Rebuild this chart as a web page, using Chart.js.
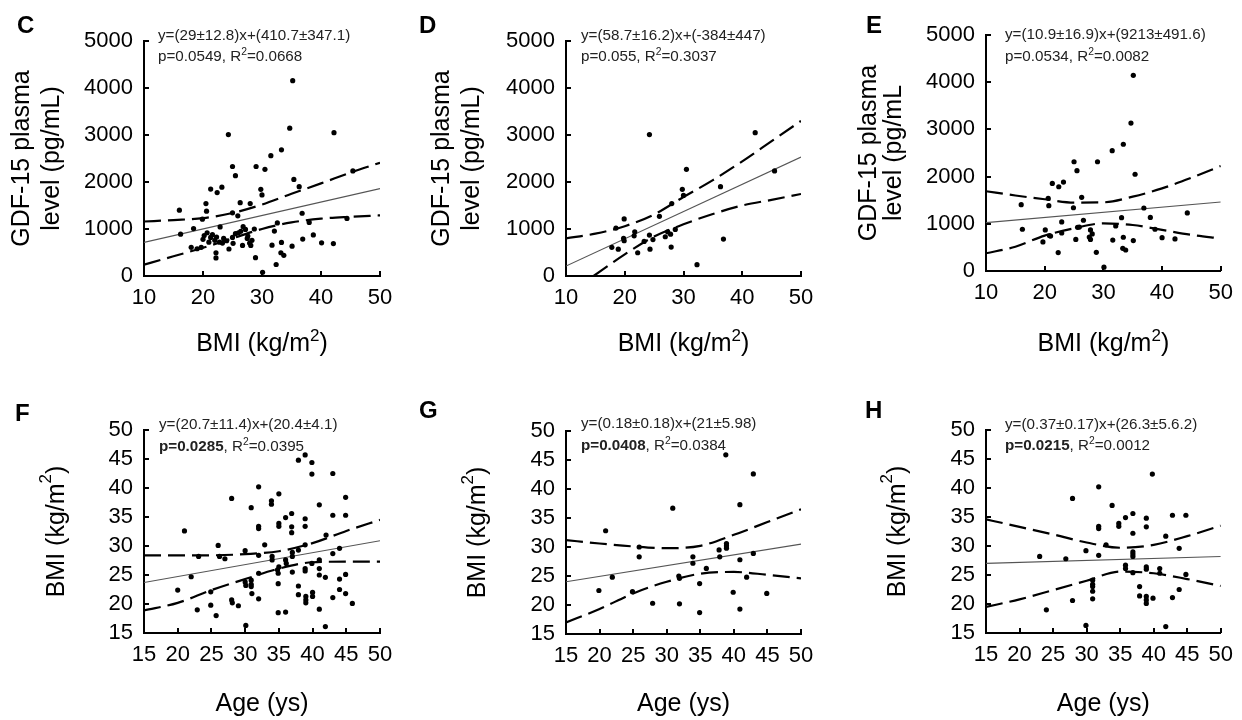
<!DOCTYPE html>
<html>
<head>
<meta charset="utf-8">
<script src="https://cdn.jsdelivr.net/npm/chart.js@4.4.1/dist/chart.umd.min.js"></script>
<style>
  body { margin: 0; background: #fff; width: 1242px; height: 720px; overflow: hidden; position: relative; }
  canvas { position: absolute; }
</style>
</head>
<body>
<canvas id="panelC" width="414" height="360" style="left:0;top:0"></canvas>
<canvas id="panelD" width="414" height="360" style="left:414px;top:0"></canvas>
<canvas id="panelE" width="414" height="360" style="left:828px;top:0"></canvas>
<canvas id="panelF" width="414" height="360" style="left:0;top:360px"></canvas>
<canvas id="panelG" width="414" height="360" style="left:414px;top:360px"></canvas>
<canvas id="panelH" width="414" height="360" style="left:828px;top:360px"></canvas>
<script>
// ---- data ----
// BMI (kg/m2) vs GDF-15 (pg/mL)
const cPoints = [[16.0,1400],[16.2,890],[18.0,610],[18.4,1010],[19.0,580],[19.7,610],[19.9,1210],[20.5,1540],[20.6,1380],
  [21.3,1850],[22.4,1775],[23.2,1890],[20.0,780],[20.2,860],[20.7,920],[21.0,720],[21.3,820],[21.6,880],[22.0,760],
  [22.3,830],[22.8,720],[23.3,700],[23.5,800],[24.0,750],[22.2,495],[22.2,385],[22.9,1045],[24.3,3010],[25.0,2330],
  [25.5,2135],[25.0,1345],[24.4,575],[25.1,695],[25.0,820],[25.5,900],[26.0,920],[26.4,950],[26.8,1050],[27.2,990],
  [27.6,850],[27.9,700],[28.1,650],[28.3,760],[28.7,1000],[27.5,800],[26.7,650],[26.3,1560],[25.9,1280],[28.0,1540],
  [28.9,390],[29.0,2330],[30.5,2270],[29.8,1845],[30.0,1725],[30.1,80],[31.5,2560],[33.3,2685],[35.2,4155],[34.7,3145],
  [35.4,2055],[36.3,1900],[36.8,1335],[38.0,1140],[36.9,785],[38.7,875],[40.1,705],[42.1,690],[42.2,3050],[45.4,2235],
  [44.4,1225],[32.1,955],[31.7,655],[33.3,715],[33.2,495],[33.7,440],[32.4,245],[35.1,635],[32.6,1130]];
const dPoints = [[17.8,610],[18.9,570],[18.5,1020],[19.9,1215],[19.8,800],[19.9,750],[21.7,940],[21.6,855],[22.2,495],
  [23.3,735],[24.2,3010],[24.2,870],[24.3,570],[24.8,775],[25.9,1270],[26.9,835],[27.3,940],[28.0,1540],[27.9,615],
  [27.8,890],[28.6,990],[29.8,1845],[30.0,1715],[30.5,2270],[32.3,240],[36.3,1900],[36.8,785],[42.2,3050],[45.5,2235]];
const ePoints = [[16.0,1405],[16.2,885],[19.7,615],[20.1,870],[20.6,1540],[20.7,1385],[20.8,750],[21.0,740],[21.3,1855],
  [22.4,1785],[23.2,1885],[22.3,390],[22.9,1040],[22.9,805],[24.9,1340],[25.0,2315],[25.5,2125],[25.3,670],[25.6,925],
  [25.9,930],[26.3,1560],[26.6,1075],[27.8,870],[27.8,670],[28.1,785],[27.6,720],[29.0,2315],[28.8,395],[30.1,80],
  [31.5,2550],[31.6,655],[33.1,1130],[33.4,2685],[33.4,715],[33.3,480],[33.8,445],[34.7,3135],[35.1,4145],[35.4,2050],
  [35.1,645],[32.1,955],[36.9,1335],[38.0,1135],[38.8,885],[40.0,705],[42.2,680],[44.3,1230]];

// Age (ys) vs BMI (kg/m2)
const fPoints = [[21.0,32.6],[20.0,22.4],[22.0,24.7],[23.1,28.2],[22.9,19.0],[24.9,22.1],[24.9,19.8],[25.7,18.0],[26.0,30.1],
  [26.2,28.2],[27.0,27.8],[28.0,38.2],[28.0,20.7],[28.1,20.2],[29.0,19.7],[30.0,29.2],[30.0,23.8],[30.1,23.2],[30.1,16.3],
  [30.9,36.6],[30.9,24.1],[30.9,23.4],[30.9,23.0],[31.0,21.8],[32.0,40.2],[32.0,33.4],[32.0,33.0],[32.0,28.4],[32.0,25.3],
  [32.0,20.9],[32.9,30.2],[33.9,37.8],[33.9,37.2],[34.0,28.2],[34.0,27.6],[34.9,18.5],[36.0,18.6],[35.0,39.0],[35.0,33.9],
  [35.0,33.4],[34.8,25.9],[34.9,25.3],[34.9,23.5],[36.0,34.9],[36.0,27.6],[36.1,27.0],[36.9,35.6],[36.9,33.3],[36.9,32.3],
  [37.0,28.9],[37.0,28.2],[37.0,25.5],[37.9,44.8],[38.9,45.7],[38.9,34.7],[38.9,33.4],[37.9,29.3],[37.9,23.1],[37.9,21.6],
  [38.9,30.2],[38.9,26.1],[39.0,21.3],[39.0,20.7],[39.0,20.2],[39.9,44.4],[39.9,42.4],[40.0,22.0],[40.0,21.3],[41.0,37.1],
  [41.0,27.6],[41.0,26.1],[41.0,25.0],[41.0,19.1],[41.9,24.6],[41.9,16.1],[42.0,31.9],[43.0,42.5],[43.0,35.3],[43.0,28.7],
  [43.0,21.1],[44.0,29.6],[44.0,24.3],[44.0,22.5],[44.9,38.4],[44.9,35.3],[44.9,25.1],[44.9,21.8],[45.9,20.1],[35.0,26.4],
  [38.9,25.7],[39.9,27.0]];
const gPoints = [[20.9,32.8],[19.9,22.5],[21.9,24.8],[25.9,30.0],[25.9,28.3],[24.9,22.3],[27.9,20.3],[30.9,36.7],[31.8,25.0],
  [31.9,20.2],[31.9,24.6],[33.9,28.3],[33.9,27.2],[34.9,23.7],[34.9,18.7],[35.9,26.3],[37.8,29.5],[37.9,28.3],[38.8,45.9],
  [38.9,30.6],[38.9,30.2],[40.9,37.3],[40.9,27.8],[39.9,22.2],[40.9,19.3],[41.9,24.8],[42.9,42.6],[42.9,28.9],[44.9,22.0],
  [38.9,29.8]];
const hPoints = [[23.0,28.2],[24.0,19.0],[26.9,27.8],[27.9,38.2],[27.9,20.6],[29.9,29.2],[29.9,16.3],[30.9,24.1],[30.9,23.4],
  [30.9,23.0],[30.9,22.2],[30.9,20.9],[31.8,40.2],[31.8,33.4],[31.8,33.0],[31.8,28.4],[32.9,30.2],[33.8,37.0],[34.8,33.9],
  [34.8,33.4],[35.8,34.9],[36.9,35.6],[36.9,32.2],[36.9,29.0],[36.9,28.6],[36.9,28.2],[35.8,26.7],[35.8,26.1],[36.9,25.4],
  [37.9,23.0],[37.9,21.4],[38.9,34.8],[38.9,33.3],[38.9,26.4],[38.9,26.0],[38.9,21.3],[38.9,20.7],[38.9,20.1],[39.8,42.4],
  [39.9,21.0],[40.9,26.1],[40.9,25.3],[41.8,16.1],[41.8,31.7],[42.8,35.3],[42.8,21.1],[43.8,29.6],[43.8,22.5],[44.8,35.3],
  [44.8,25.1]];

// fitted line (ends) and confidence band, read at these x positions
const bmiEnds = [10, 50];
const ageEnds = [15, 50];
const bmiBandX = [10, 15, 20, 25, 30, 35, 40, 45, 50];
const ageBandX = [15, 20, 25, 30, 35, 40, 45, 50];

const cFit = [715, 1860];
const cUpper = [1160, 1190, 1230, 1340, 1520, 1750, 1970, 2200, 2410];
const cLower = [240, 420, 600, 800, 1000, 1140, 1220, 1260, 1290];
const dFit = [212, 2530];
const dUpper = [800, 900, 1060, 1310, 1680, 2040, 2440, 2870, 3300];
const dLowerX = [14.7, 20, 25, 30, 35, 40, 45, 50];
const dLower = [0, 460, 840, 1100, 1320, 1500, 1620, 1745];
const eFit = [1024, 1462];
const eUpper = [1690, 1600, 1520, 1450, 1455, 1575, 1750, 1975, 2225];
const eLower = [375, 515, 750, 905, 1010, 975, 870, 765, 690];

const fFit = [23.7, 30.9];
const fUpper = [28.4, 28.4, 28.4, 28.6, 29.1, 30.5, 32.6, 34.5];
const fLower = [18.9, 20.2, 22.4, 24.3, 26.1, 27.2, 27.3, 27.3];
const gFit = [24.0, 30.5];
const gUpper = [31.2, 30.6, 30.1, 29.8, 30.2, 32.1, 34.3, 36.5];
const gLower = [17.0, 19.3, 22.0, 24.0, 25.4, 25.7, 25.2, 24.6];
const hFit = [27.0, 28.2];
const hUpper = [34.6, 33.3, 32.0, 30.6, 29.7, 30.2, 31.7, 33.5];
const hLower = [19.5, 20.8, 22.4, 24.0, 25.6, 25.3, 24.3, 23.1];

// ---- drawing ----
const FONT = '"Liberation Sans", Arial, Helvetica, sans-serif';
const sup2 = { t: '2', sup: true };
const bmiTitle = [{ t: 'BMI (kg/m' }, sup2, { t: ')' }];
const gdfTitle = [[{ t: 'GDF-15 plasma' }], [{ t: 'level (pg/mL)' }]];

function xy(xs, ys) {
  return xs.map((x, i) => ({ x: x, y: ys[i] }));
}

function drawRuns(ctx, runs, x, y, size, align, color, baseline) {
  ctx.fillStyle = color;
  ctx.textBaseline = baseline || 'alphabetic';
  ctx.textAlign = 'left';
  const fontOf = r => (r.b ? 'bold ' : '') + (r.sup ? size * 0.68 : size) + 'px ' + FONT;
  let total = 0;
  runs.forEach(r => { ctx.font = fontOf(r); total += ctx.measureText(r.t).width; });
  let cx = align === 'center' ? x - total / 2 : x;
  runs.forEach(r => {
    ctx.font = fontOf(r);
    ctx.fillText(r.t, cx, r.sup ? y - size * 0.42 : y);
    cx += ctx.measureText(r.t).width;
  });
}

const panelText = {
  id: 'panelText',
  afterDraw(chart, args, o) {
    const ctx = chart.ctx;
    const a = chart.chartArea;
    ctx.save();

    // inward tick marks
    ctx.strokeStyle = '#000';
    ctx.lineWidth = 2;
    const xs = chart.scales.x, ys = chart.scales.y;
    xs.ticks.forEach(t => {
      if (t.value === xs.min) return;
      const px = Math.round(xs.getPixelForValue(t.value));
      ctx.beginPath(); ctx.moveTo(px, a.bottom); ctx.lineTo(px, a.bottom - 5); ctx.stroke();
    });
    ys.ticks.forEach(t => {
      if (t.value === ys.min) return;
      const py = Math.round(ys.getPixelForValue(t.value));
      ctx.beginPath(); ctx.moveTo(a.left, py); ctx.lineTo(a.left + 5, py); ctx.stroke();
    });

    // panel letter
    drawRuns(ctx, [{ t: o.letter, b: true }], o.letterX, o.letterY, 24, 'left', '#000');
    // regression text
    drawRuns(ctx, [{ t: o.eq1 }], a.left + o.eqDx, o.eq1Y, 15.2, 'left', '#222');
    drawRuns(ctx, o.eq2, a.left + o.eqDx, o.eq2Y, 15.2, 'left', '#222');
    // axis titles
    drawRuns(ctx, o.xTitle, (a.left + a.right) / 2, o.xTitleY, 25, 'center', '#000');
    const cy = (a.top + a.bottom) / 2;
    o.yTitle.forEach((runs, i) => {
      ctx.save();
      ctx.translate(o.yTitleX[i], cy);
      ctx.rotate(-Math.PI / 2);
      drawRuns(ctx, runs, 0, 0, 25, 'center', '#000', 'middle');
      ctx.restore();
    });
    ctx.restore();
  }
};

function makePanel(id, p) {
  const lineBase = { showLine: true, pointRadius: 0, fill: false };
  const band = Object.assign({}, lineBase, {
    borderColor: '#000', borderWidth: 2.2, borderDash: [17, 7], cubicInterpolationMode: 'monotone', order: 2
  });
  new Chart(document.getElementById(id), {
    type: 'scatter',
    data: {
      datasets: [
        { data: p.points.map(q => ({ x: q[0], y: q[1] })), pointRadius: 2.6, pointBackgroundColor: '#000',
          pointBorderWidth: 0, order: 0 },
        Object.assign({}, lineBase, { data: p.fit, borderColor: '#555', borderWidth: 1.1, order: 1 }),
        Object.assign({}, band, { data: p.upper }),
        Object.assign({}, band, { data: p.lower })
      ]
    },
    options: {
      responsive: false,
      animation: false,
      events: [],
      layout: { padding: { left: p.area.l - 60, right: 414 - p.area.r, top: p.area.t, bottom: 360 - p.area.b - 40 } },
      scales: {
        x: {
          type: 'linear', min: p.xRange[0], max: p.xRange[1],
          grid: { display: false, drawTicks: false },
          border: { color: '#000', width: 2 },
          ticks: { stepSize: p.xRange[2], color: '#000', font: { family: FONT, size: 22 }, padding: 9,
                   autoSkip: false, maxRotation: 0, callback: v => String(v) },
          afterFit: s => { s.height = 40; }
        },
        y: {
          type: 'linear', min: p.yRange[0], max: p.yRange[1],
          grid: { display: false, drawTicks: false },
          border: { color: '#000', width: 2 },
          ticks: { stepSize: p.yRange[2], color: '#000', font: { family: FONT, size: 22 }, padding: 11,
                   autoSkip: false, callback: v => String(v) },
          afterFit: s => { s.width = 60; }
        }
      },
      plugins: { legend: { display: false }, tooltip: { enabled: false }, panelText: p.text }
    },
    plugins: [panelText]
  });
}

makePanel('panelC', {
  points: cPoints, fit: xy(bmiEnds, cFit), upper: xy(bmiBandX, cUpper), lower: xy(bmiBandX, cLower),
  xRange: [10, 50, 10], yRange: [0, 5000, 1000], area: { l: 144, r: 380, t: 41, b: 276 },
  text: { letter: 'C', letterX: 17, letterY: 33, eqDx: 14, eq1Y: 40, eq2Y: 61,
    eq1: 'y=(29\u00b112.8)x+(410.7\u00b1347.1)', eq2: [{ t: 'p=0.0549, R' }, sup2, { t: '=0.0668' }],
    xTitle: bmiTitle, xTitleY: 351, yTitle: gdfTitle, yTitleX: [22, 52] }
});
makePanel('panelD', {
  points: dPoints, fit: xy(bmiEnds, dFit), upper: xy(bmiBandX, dUpper), lower: xy(dLowerX, dLower),
  xRange: [10, 50, 10], yRange: [0, 5000, 1000], area: { l: 152, r: 387, t: 41, b: 276 },
  text: { letter: 'D', letterX: 5, letterY: 33, eqDx: 15, eq1Y: 40, eq2Y: 61,
    eq1: 'y=(58.7\u00b116.2)x+(-384\u00b1447)', eq2: [{ t: 'p=0.055, R' }, sup2, { t: '=0.3037' }],
    xTitle: bmiTitle, xTitleY: 351, yTitle: gdfTitle, yTitleX: [28.5, 58.5] }
});
makePanel('panelE', {
  points: ePoints, fit: xy(bmiEnds, eFit), upper: xy(bmiBandX, eUpper), lower: xy(bmiBandX, eLower),
  xRange: [10, 50, 10], yRange: [0, 5000, 1000], area: { l: 158, r: 394, t: 35, b: 271 },
  text: { letter: 'E', letterX: 38, letterY: 33, eqDx: 19, eq1Y: 39, eq2Y: 61,
    eq1: 'y=(10.9\u00b116.9)x+(9213\u00b1491.6)', eq2: [{ t: 'p=0.0534, R' }, sup2, { t: '=0.0082' }],
    xTitle: bmiTitle, xTitleY: 351, yTitle: [[{ t: 'GDF-15 plasma' }], [{ t: 'level (pg/mL' }]], yTitleX: [41.5, 66] }
});
makePanel('panelF', {
  points: fPoints, fit: xy(ageEnds, fFit), upper: xy(ageBandX, fUpper), lower: xy(ageBandX, fLower),
  xRange: [15, 50, 5], yRange: [15, 50, 5], area: { l: 144, r: 380, t: 70, b: 273 },
  text: { letter: 'F', letterX: 15, letterY: 61, eqDx: 15, eq1Y: 69, eq2Y: 91,
    eq1: 'y=(20.7\u00b111.4)x+(20.4\u00b14.1)', eq2: [{ t: 'p=0.0285', b: true }, { t: ', R' }, sup2, { t: '=0.0395' }],
    xTitle: [{ t: 'Age (ys)' }], xTitleY: 351, yTitle: [bmiTitle], yTitleX: [57] }
});
makePanel('panelG', {
  points: gPoints, fit: xy(ageEnds, gFit), upper: xy(ageBandX, gUpper), lower: xy(ageBandX, gLower),
  xRange: [15, 50, 5], yRange: [15, 50, 5], area: { l: 152, r: 387, t: 71, b: 274 },
  text: { letter: 'G', letterX: 5, letterY: 58, eqDx: 15, eq1Y: 68, eq2Y: 90,
    eq1: 'y=(0.18\u00b10.18)x+(21\u00b15.98)', eq2: [{ t: 'p=0.0408', b: true }, { t: ', R' }, sup2, { t: '=0.0384' }],
    xTitle: [{ t: 'Age (ys)' }], xTitleY: 351, yTitle: [bmiTitle], yTitleX: [64.5] }
});
makePanel('panelH', {
  points: hPoints, fit: xy(ageEnds, hFit), upper: xy(ageBandX, hUpper), lower: xy(ageBandX, hLower),
  xRange: [15, 50, 5], yRange: [15, 50, 5], area: { l: 158, r: 395, t: 70, b: 273 },
  text: { letter: 'H', letterX: 37, letterY: 58, eqDx: 19, eq1Y: 69, eq2Y: 90,
    eq1: 'y=(0.37\u00b10.17)x+(26.3\u00b15.6.2)', eq2: [{ t: 'p=0.0215', b: true }, { t: ', R' }, sup2, { t: '=0.0012' }],
    xTitle: [{ t: 'Age (ys)' }], xTitleY: 351, yTitle: [bmiTitle], yTitleX: [70] }
});
</script>
</body>
</html>
